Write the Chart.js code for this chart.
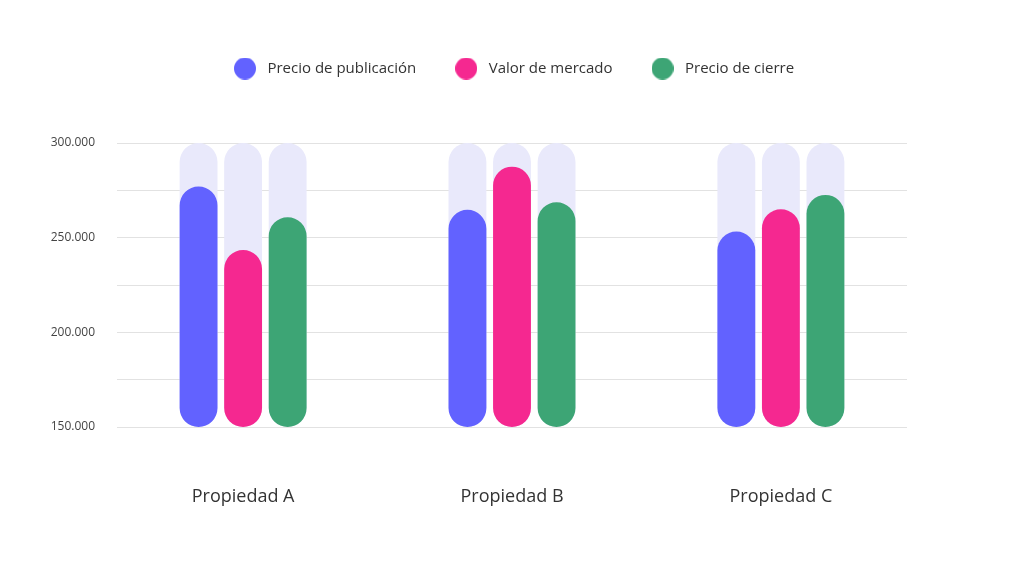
<!DOCTYPE html>
<html><head><meta charset="utf-8">
<script src="https://cdn.jsdelivr.net/npm/chart.js@4.4.0/dist/chart.umd.min.js"></script>
<style>html,body{margin:0;padding:0;background:#fff;} #wrap{width:1024px;height:575px;position:relative;}</style>
</head><body><div id="wrap"><canvas id="c"></canvas></div>
<script>
const categories = ['Propiedad A', 'Propiedad B', 'Propiedad C'];
const seriesNames = ['Precio de publicación', 'Valor de mercado', 'Precio de cierre'];
const precioPublicacion = [277000, 264700, 253200];
const valorMercado = [243500, 287500, 265000];
const precioCierre = [260800, 268700, 272600];
const axisMin = 150000;
const axisMax = 300000;
const yGridStep = 25000;
const yTickValues = [150000, 200000, 250000, 300000];
const yTickLabels = ['150.000', '200.000', '250.000', '300.000'];

const seriesColors = ['#6262ff', '#f52890', '#3da575'];
const trackColor = '#e9e9fb';
const FONT = "'Open Sans', 'Noto Sans', sans-serif";

function circleImg(color, d) {
  const cv = document.createElement('canvas');
  cv.width = d; cv.height = d;
  const cx = cv.getContext('2d');
  cx.fillStyle = color;
  cx.beginPath();
  cx.arc(d / 2, d / 2, d / 2, 0, Math.PI * 2);
  cx.fill();
  return cv;
}

const barStyle = {
  borderRadius: 40,
  borderSkipped: false,
  barPercentage: 0.85,
  categoryPercentage: 0.497
};

const seriesValues = [precioPublicacion, valorMercado, precioCierre];
const datasets = [];
seriesValues.forEach((vals, s) => {
  datasets.push(Object.assign({
    label: seriesNames[s],
    data: vals.map((v, i) => ({ x: i, y: [axisMin, v] })),
    backgroundColor: seriesColors[s],
    pointStyle: circleImg(seriesColors[s], 22),
    stack: 'g' + s,
    order: 1
  }, barStyle));
});
seriesValues.forEach((vals, s) => {
  datasets.push(Object.assign({
    label: 'track' + s,
    data: vals.map((v, i) => ({ x: i, y: [axisMin, axisMax] })),
    backgroundColor: trackColor,
    stack: 'g' + s,
    order: 2
  }, barStyle));
});

const legendGap = {
  id: 'legendGap',
  beforeUpdate(chart) {
    const lg = chart.legend;
    if (lg && !lg._gapPatched) {
      const f = lg.fit;
      lg.fit = function () { f.call(this); this.height += 57; };
      lg._gapPatched = true;
    }
  }
};

new Chart(document.getElementById('c'), {
  type: 'bar',
  data: { datasets },
  plugins: [legendGap],
  options: {
    responsive: true,
    maintainAspectRatio: false,
    animation: false,
    layout: { padding: { top: 26, right: 0, left: 0, bottom: 0 } },
    plugins: {
      tooltip: { enabled: false },
      legend: {
        position: 'top',
        labels: {
          filter: (item) => item.datasetIndex < 3,
          usePointStyle: true,
          pointStyleWidth: 30,
          boxHeight: 15,
          padding: 35,
          color: '#333',
          font: { family: FONT, size: 15 }
        }
      }
    },
    scales: {
      x: {
        type: 'linear',
        offset: false,
        min: -0.469,
        max: 2.469,
        afterBuildTicks: (scale) => { scale.ticks = categories.map((c, i) => ({ value: i })); },
        grid: { display: false },
        border: { display: false },
        ticks: {
          padding: 51,
          color: '#333',
          font: { family: FONT, size: 18 },
          callback: (v) => categories[v]
        },
        afterFit: (scale) => { scale.height = 148; }
      },
      y: {
        stacked: false,
        min: axisMin,
        max: axisMax,
        afterBuildTicks: (scale) => {
          const t = [];
          for (let v = axisMin; v <= axisMax; v += yGridStep) t.push({ value: v });
          scale.ticks = t;
        },
        afterFit: (scale) => { scale.width = 117; },
        grid: { color: '#e2e2e2', lineWidth: 1, drawTicks: false },
        border: { display: false },
        ticks: {
          padding: 22,
          color: '#444',
          font: { family: FONT, size: 12 },
          callback: (v) => {
            const k = yTickValues.indexOf(v);
            return k >= 0 ? yTickLabels[k] : '';
          }
        }
      },
      yRight: {
        position: 'right',
        display: true,
        grid: { display: false, drawTicks: false },
        border: { display: false },
        ticks: { display: false },
        afterFit: (scale) => { scale.width = 117; }
      }
    }
  }
});
</script></body></html>
